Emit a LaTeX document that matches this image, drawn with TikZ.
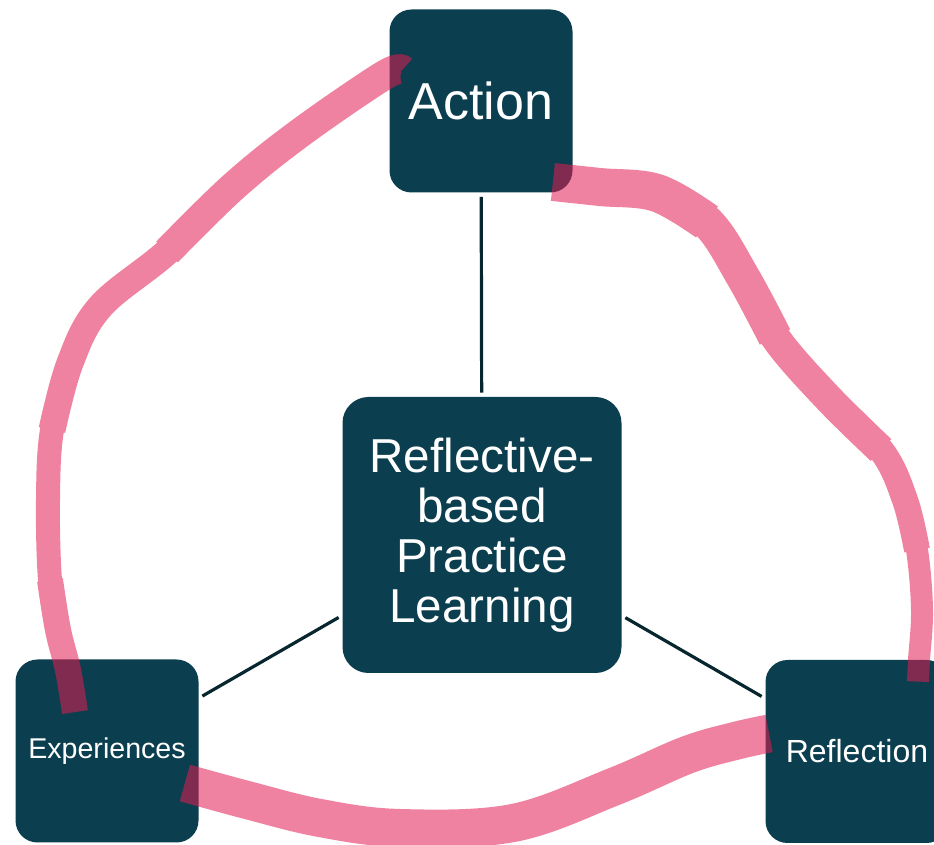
\documentclass[tikz,border=0pt]{standalone}
\usepackage{fontspec}
\setmainfont{Liberation Sans}
\usetikzlibrary{positioning}
\definecolor{boxteal}{RGB}{11,62,78}
\definecolor{linkline}{RGB}{8,38,46}
\definecolor{pinkpen}{RGB}{228,28,83}

\begin{document}
\begin{tikzpicture}[x=0.5pt, y=-0.5pt,
 box/.style={rectangle, rounded corners=11pt, fill=boxteal, text=white, align=center,
  inner sep=0pt, minimum width=91.5pt, minimum height=91.5pt},
 link/.style={draw=linkline, line width=1.6pt, shorten >=2pt, shorten <=2pt},
 pen/.style={draw=pinkpen, line width=#1, line cap=butt, line join=round}]
 \useasboundingbox (0,0) rectangle (934,845);
 \node[box, font=\fontsize{26}{28}\selectfont] (act) at (481,101) {Action};
 \node[box, minimum width=139.5pt, minimum height=138pt, rounded corners=13pt,
  font=\fontsize{23.8}{25}\selectfont] (core) at (482,535) {Reflective-\\based\\Practice\\Learning};
 \node[box, font=\fontsize{14.3}{16}\selectfont] (exp) at (107,751) {Experiences};
 \node[box, font=\fontsize{16}{18}\selectfont] (refl) at (857,751.5) {Reflection};
 \draw[link] (act) -- (core);
 \draw[link] (exp) -- (core);
 \draw[link] (refl) -- (core);
 \coordinate (actL) at ([shift={(13,-31)}]act.west);
 \coordinate (actR) at ([shift={(-20,81)}]act.east);
 \coordinate (expT) at ([shift={(-32,53)}]exp.north);
 \coordinate (expR) at ([shift={(-14,32)}]exp.east);
 \coordinate (reflT) at ([shift={(61,22)}]refl.north);
 \coordinate (reflL) at ([shift={(4,-18)}]refl.west);
 \begin{scope}[transparency group, opacity=.55]
  \draw[pen=15pt] plot[smooth, tension=.6] coordinates {(actL) (383,76) (300,133) (233,187)
   (167,252)};
  \draw[pen=13.5pt] plot[smooth, tension=.6] coordinates {(233,187) (167,252) (100,307) (70,363)
   (52,430)};
  \draw[pen=12pt] plot[smooth, tension=.6] coordinates {(70,363) (52,430) (48,500) (50,580)
   (58,630)};
  \draw[pen=13pt] plot[smooth, tension=.6] coordinates {(50,580) (58,630) (68,670) (expT)};
  \draw[pen=19pt] plot[smooth, tension=.6] coordinates {(actR) (600,187) (657,193) (707,222)};
  \draw[pen=17pt] plot[smooth, tension=.6] coordinates {(657,193) (707,222) (743,277) (775,337)};
  \draw[pen=15pt] plot[smooth, tension=.6] coordinates {(743,277) (775,337) (827,397) (881,450)};
  \draw[pen=13pt] plot[smooth, tension=.6] coordinates {(827,397) (881,450) (905,500) (917,550)};
  \draw[pen=11pt] plot[smooth, tension=.6] coordinates {(905,500) (917,550) (922,610) (919,660)
   (reflT)};
  \draw[pen=19pt] plot[smooth, tension=.6] coordinates {(expR) (247,800) (320,818) (400,828)
   (513,823) (613,787) (687,755) (735,741) (reflL)};
 \end{scope}
\end{tikzpicture}
\end{document}
